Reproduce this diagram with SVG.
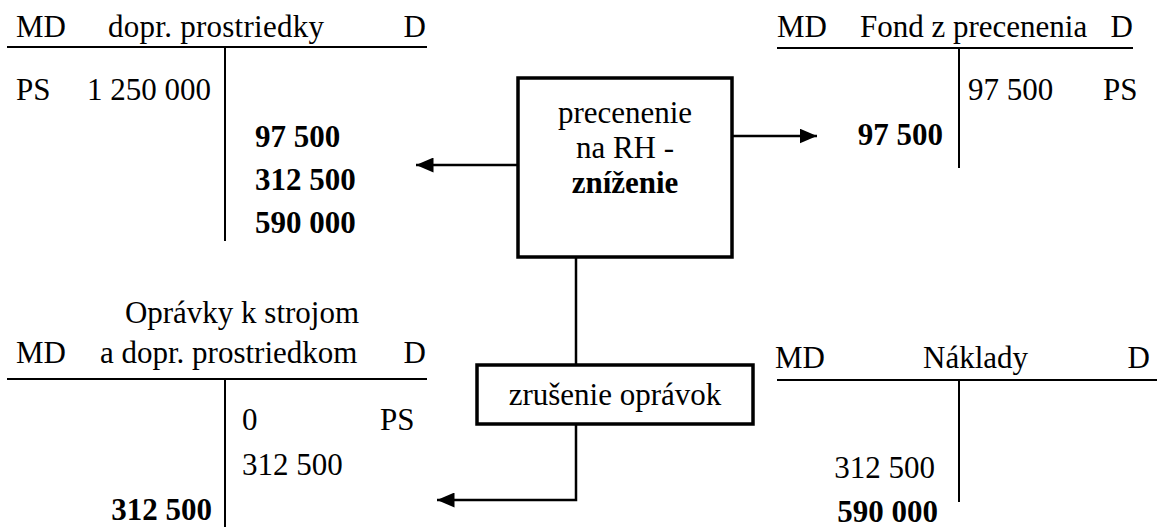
<svg xmlns="http://www.w3.org/2000/svg" width="1159" height="527" viewBox="0 0 1159 527">
<style>
text{font-family:"Liberation Serif","Times New Roman",serif;font-size:31px;fill:#000}
.b{font-weight:bold}
.e{text-anchor:end}
.m{text-anchor:middle}
.t{stroke:#000;stroke-width:2;fill:none}
.box{stroke:#000;stroke-width:3.5;fill:#fff}
.c{stroke:#000;stroke-width:2.5;fill:none}
</style>
<defs>
<marker id="ah" viewBox="0 0 10 10" refX="10" refY="5" markerWidth="7" markerHeight="6" markerUnits="strokeWidth" orient="auto" preserveAspectRatio="none">
<path d="M0,0 L10,5 L0,10 z" fill="#000"/>
</marker>
</defs>
<rect width="1159" height="527" fill="#fff"/>
<g id="acc-dopr">
<line class="t" x1="7" y1="47" x2="427" y2="47"/>
<line class="t" x1="225" y1="47" x2="225" y2="241"/>
<text x="16" y="37">MD</text>
<text x="108" y="37" textLength="216" lengthAdjust="spacing">dopr. prostriedky</text>
<text x="426" y="37" class="e">D</text>
<text x="16" y="100">PS</text>
<text x="87" y="100">1 250 000</text>
<text x="255" y="147" class="b">97 500</text>
<text x="255" y="190" class="b">312 500</text>
<text x="255" y="233" class="b">590 000</text>
</g>
<g id="acc-fond">
<line class="t" x1="777" y1="48" x2="1133" y2="48"/>
<line class="t" x1="959" y1="48" x2="959" y2="168"/>
<text x="777" y="37">MD</text>
<text x="860" y="37">Fond z precenenia</text>
<text x="1133" y="37" class="e">D</text>
<text x="968" y="100">97 500</text>
<text x="1103" y="100">PS</text>
<text x="943" y="145" class="b e">97 500</text>
</g>
<g id="acc-opravky">
<line class="t" x1="7" y1="379" x2="427" y2="379"/>
<line class="t" x1="225" y1="379" x2="225" y2="527"/>
<text x="242" y="323" class="m">Oprávky k strojom</text>
<text x="16" y="363">MD</text>
<text x="100" y="363">a dopr. prostriedkom</text>
<text x="426" y="363" class="e">D</text>
<text x="242" y="430">0</text>
<text x="380" y="430">PS</text>
<text x="242" y="475">312 500</text>
<text x="212" y="520" class="b e">312 500</text>
</g>
<g id="acc-naklady">
<line class="t" x1="777" y1="380" x2="1157" y2="380"/>
<line class="t" x1="959" y1="380" x2="959" y2="502"/>
<text x="775" y="368">MD</text>
<text x="923" y="368">Náklady</text>
<text x="1150" y="368" class="e">D</text>
<text x="935" y="478" class="e">312 500</text>
<text x="938" y="522" class="b e">590 000</text>
</g>
<g id="box-precenenie">
<rect class="box" x="518" y="78" width="214" height="179"/>
<text x="625" y="123" class="m">precenenie</text>
<text x="625" y="158" class="m">na RH -</text>
<text x="625" y="193" class="m b">zníženie</text>
</g>
<g id="box-zrusenie">
<rect class="box" x="477" y="365" width="276" height="59"/>
<text x="615" y="405" class="m">zrušenie oprávok</text>
</g>
<g id="connectors">
<line class="c" x1="518" y1="165" x2="416" y2="165" marker-end="url(#ah)"/>
<line class="c" x1="732" y1="136" x2="817" y2="136" marker-end="url(#ah)"/>
<line class="c" x1="576" y1="257" x2="576" y2="365"/>
<polyline class="c" points="576,424 576,500 437,500" marker-end="url(#ah)"/>
</g>
</svg>
